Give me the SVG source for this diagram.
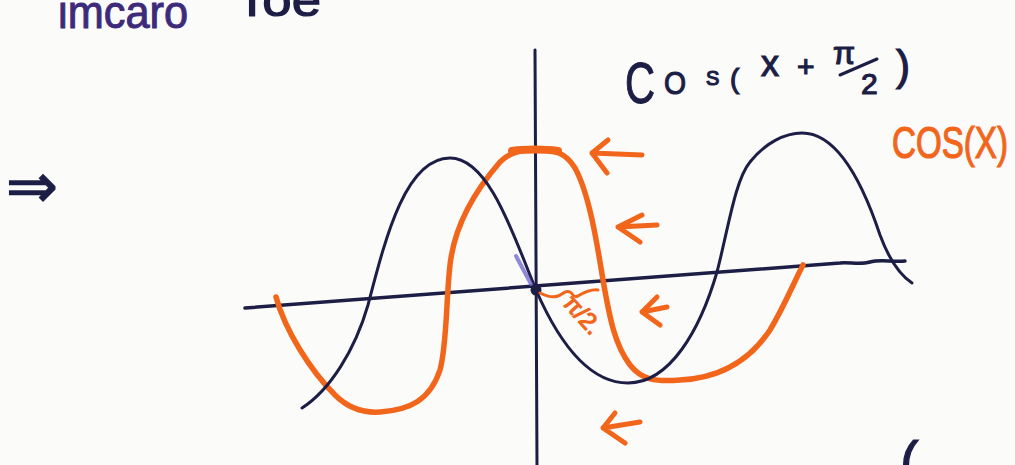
<svg xmlns="http://www.w3.org/2000/svg" width="1015" height="465" viewBox="0 0 1015 465">
  <defs>
    <style>
      .navy { fill: none; stroke: #1d1e45; stroke-linecap: round; stroke-linejoin: round; }
      .orange { fill: none; stroke: #f2661b; stroke-linecap: round; stroke-linejoin: round; }
      .nt { fill: #1d1e45; stroke: #1d1e45; stroke-width: 1.2; font-family: "Liberation Sans", "DejaVu Sans", sans-serif; }
      .ot { fill: #f2661b; stroke: #f2661b; stroke-width: 1.2; font-family: "Liberation Sans", "DejaVu Sans", sans-serif; }
      .pt { fill: #3e2a7a; stroke: #3e2a7a; stroke-width: 1; font-family: "Liberation Sans", "DejaVu Sans", sans-serif; }
    </style>
  </defs>
  <rect width="1015" height="465" fill="#fbfbfa"/>

  <!-- top cut-off handwriting -->
  <g id="top-note">
    <text class="pt" x="58" y="28" font-size="46" textLength="130" lengthAdjust="spacingAndGlyphs">imcaro</text>
    <text class="nt" x="236" y="16" font-size="46" textLength="85" lengthAdjust="spacingAndGlyphs">Toe</text>
  </g>

  <!-- implies -->
  <g id="implies">
    <text class="nt" x="6" y="207" font-size="62" font-family="DejaVu Sans, sans-serif">⇒</text>
  </g>

  <!-- axes -->
  <g id="axes">
    <path class="navy" stroke-width="3.5" d="M245,308 L840,263 C850,262 860,265 870,262 C880,259 890,262 905,261"/>
    <path class="navy" stroke-width="3" d="M535,50 L537,465"/>
    <circle cx="536" cy="290" r="5.5" fill="#1d1e45"/>
  </g>

  <!-- curves -->
  <g id="curves">
    <path id="cos-x" class="orange" stroke-width="5.5" d="M276,297 C285,330 310,370 335,395 C350,410 365,413 380,412 C410,410 430,400 440,370 C447,345 446,300 450,265 C455,220 480,185 500,162 C510,152 520,150 535,150 C555,150 565,152 575,168 C590,195 598,250 603,280 C610,320 615,345 630,365 C642,380 655,382 680,380 C720,378 750,360 770,330 C785,305 795,280 803,265"/>
    <path class="orange" stroke-width="8" d="M512,151 C525,149 545,149 558,151"/>
    <path id="cos-x-pi2" class="navy" stroke-width="3" d="M302,408 C330,390 355,350 368,305 C385,240 405,158 450,158 C490,158 515,240 536,290 C560,345 590,383 628,383 C670,383 700,330 717,272 C728,230 735,180 750,162 C765,143 785,133 802,133 C840,133 865,190 880,235 C890,262 900,275 912,283"/>
    <path d="M516,256 L531,284" fill="none" stroke="#6b62c8" stroke-width="4" stroke-linecap="round" opacity="0.75"/>
  </g>

  <!-- pi/2 shift marker -->
  <g id="shift">
    <path class="orange" stroke-width="3" d="M540,293 C548,297 553,298 558,296 C563,294 565,290 570,292 C574,294 572,298 578,296 C585,292 592,289 598,290"/>
    <text class="ot" x="0" y="0" font-size="24" transform="translate(562,304) rotate(48)">π/2.</text>
  </g>

  <!-- arrows -->
  <g id="arrows">
    <path class="orange" stroke-width="5" d="M642,155 L592,153 M608,140 L592,153 L607,173"/>
    <path class="orange" stroke-width="5" d="M657,225 L618,227 M642,215 L618,227 L640,242"/>
    <path class="orange" stroke-width="5" d="M667,307 L642,312 M657,297 L642,312 L660,325"/>
    <path class="orange" stroke-width="5" d="M640,422 L603,428 M615,413 L603,428 L625,443"/>
  </g>

  <!-- labels -->
  <g id="label-blue">
    <text class="nt" x="625" y="103" font-size="58" textLength="30" lengthAdjust="spacingAndGlyphs">C</text>
    <text class="nt" x="664" y="94" font-size="32" textLength="22" lengthAdjust="spacingAndGlyphs">O</text>
    <text class="nt" x="706" y="85" font-size="20">S</text>
    <text class="nt" x="730" y="88" font-size="28">(</text>
    <text class="nt" x="761" y="76" font-size="36">x</text>
    <text class="nt" x="797" y="77" font-size="30">+</text>
    <text class="nt" x="833" y="64" font-size="32">π</text>
    <path class="navy" stroke-width="3" d="M840,75 L877,59"/>
    <text class="nt" x="861" y="94" font-size="30">2</text>
    <text class="nt" x="896" y="80" font-size="42">)</text>
  </g>
  <g id="label-orange">
    <text class="ot" x="892" y="158" font-size="44" textLength="116" lengthAdjust="spacingAndGlyphs">COS(X)</text>
  </g>

  <g id="corner-paren">
    <text class="nt" x="900" y="480" font-size="56">(</text>
  </g>
</svg>
